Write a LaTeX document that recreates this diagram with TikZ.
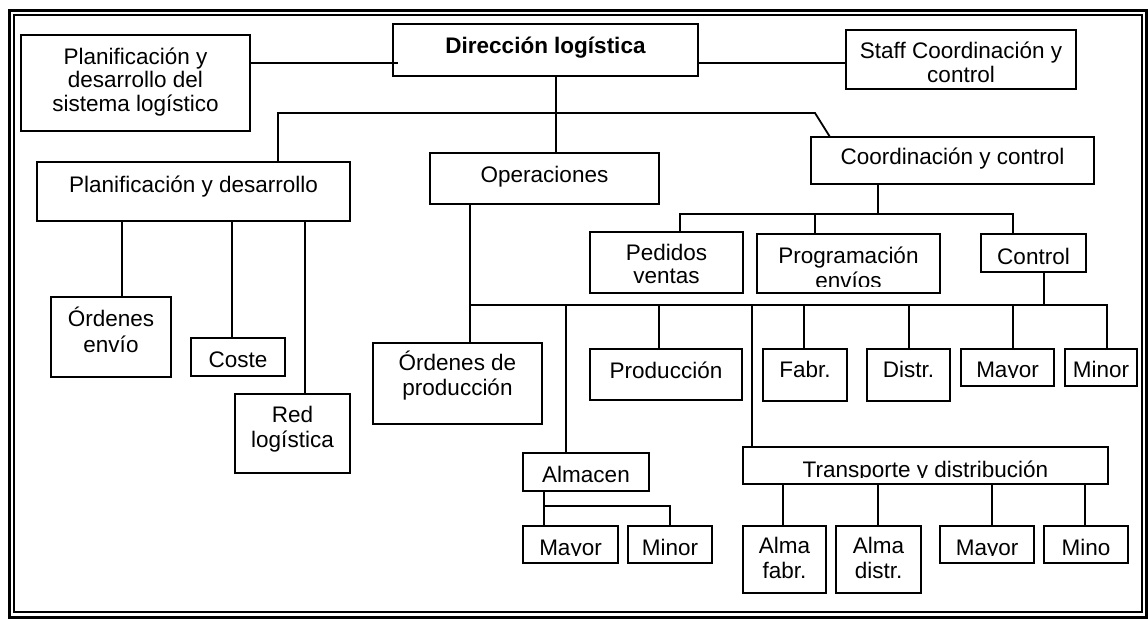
\documentclass[tikz,border=0pt]{standalone}
\usepackage{fontspec}
\setmainfont{Liberation Sans}
% A box from (x1,y1) to (x2,y2); its lines are set at given offsets below
% the top edge, and the text is clipped #6 units above the bottom edge.
\newcommand\orgbox[7]{%
  \node[box, minimum width={(#4-#2)*1pt}, minimum height={(#5-#3)*1pt},
    path picture={
      \clip (path picture bounding box.north west) rectangle
            ([yshift=#6pt]path picture bounding box.south east);
      \foreach \boff/\btxt in {#7}{%
        \node[lbl] at ([yshift={-\boff pt}]path picture bounding box.north) {\btxt};}
    }] (#1) at ({(#2+#4)/2},{(#3+#5)/2}) {};}
\begin{document}
\begin{tikzpicture}[x=1pt,y=-1pt,
  box/.style={draw, rectangle, line width=1.8pt, inner sep=0pt, outer sep=0pt},
  lbl/.style={draw=none, inner sep=0pt, anchor=base, font=\fontsize{22.5}{24}\selectfont},
  link/.style={line width=1.8pt},
  frameout/.style={line width=3pt},
  framein/.style={line width=1.4pt}]
\useasboundingbox (0,0) rectangle (1148,619);
% double frame
\draw[frameout] (9,10) rectangle (1146,617);
\draw[framein] (14,15) rectangle (1142,612);

% top level
\orgbox{plansys}{21}{35}{250}{131}{0}{29/Planificación y, 52/desarrollo del, 76/sistema logístico}
\orgbox{dir}{393}{24}{698}{76}{0}{29/\bfseries Dirección logística}
\orgbox{staff}{846}{30}{1076}{89}{0}{28/Staff Coordinación y, 52/control}

% second level
\orgbox{pyd}{37}{162}{350}{221}{0}{30/Planificación y desarrollo}
\orgbox{ops}{430}{153}{659}{204}{0}{29/Operaciones}
\orgbox{coord}{811}{137}{1094}{184}{0}{27/Coordinación y control}

% coordination branch
\orgbox{ped}{590}{232}{743}{293}{0}{28/Pedidos, 51/ventas}
\orgbox{prog}{757}{234}{940}{293}{7}{29/Programación, 54/envíos}
\orgbox{ctrl}{981}{234}{1086}{272}{0}{30/Control}

% planning branch
\orgbox{envio}{51}{297}{171}{377}{0}{29/Órdenes, 55/envío}
\orgbox{coste}{191}{338}{285}{376}{0}{29/Coste}
\orgbox{red}{235}{394}{350}{473}{0}{28/Red, 53/logística}

% operations branch
\orgbox{ordprod}{373}{343}{542}{424}{0}{27/Órdenes de, 52/producción}
\orgbox{prod}{590}{349}{742}{400}{0}{29/Producción}
\orgbox{fabr}{763}{349}{847}{401}{0}{28/Fabr.}
\orgbox{distr}{867}{349}{950}{401}{0}{28/Distr.}
\orgbox{mayc}{961}{349}{1054}{386}{9}{28/Mayor}
\orgbox{minc}{1065}{349}{1137}{386}{9}{28/Minor}
\orgbox{alm}{523}{453}{649}{491}{0}{29/Almacen}
\orgbox{maya}{523}{526}{618}{563}{8}{29/Mayor}
\orgbox{mina}{628}{526}{712}{563}{8}{29/Minor}
\orgbox{trans}{743}{447}{1108}{484}{7}{30/Transporte y distribución}
\orgbox{almf}{743}{526}{826}{593}{0}{27/Alma, 52/fabr.}
\orgbox{almd}{836}{526}{921}{593}{0}{27/Alma, 52/distr.}
\orgbox{mayt}{940}{526}{1034}{563}{8}{29/Mayor}
\orgbox{mino}{1044}{526}{1128}{563}{8}{29/Mino}

% connectors: top level
\coordinate (hl) at (0,63);
\draw[link] (plansys.east |- hl) -- ([xshift=5pt]dir.west |- hl);
\draw[link] (dir.east |- hl) -- (staff.west |- hl);
\draw[link] (dir.south -| 556,0) -- (ops.north -| 556,0);
\draw[link] (pyd.north -| 278,0) -- (278,113) -- (815,113) -- ([xshift=19pt]coord.north west);

% connectors: planning branch
\foreach \xx/\nn in {122/envio, 232/coste, 305/red}
  \draw[link] (pyd.south -| \xx,0) -- (\nn.north -| \xx,0);

% connectors: coordination branch
\coordinate (cbus) at (0,214);
\draw[link] (coord.south -| 878,0) -- (cbus -| 878,0);
\draw[link] (ped.north -| 680,0) -- (cbus -| 680,0) -- (cbus -| 1013,0) -- (ctrl.north -| 1013,0);
\draw[link] (cbus -| 815,0) -- (prog.north -| 815,0);

% connectors: operations branch
\coordinate (obus) at (470,305);
\draw[link] (ops.south -| obus) -- (ordprod.north -| obus);
\draw[link] (obus) -| (minc.north -| 1107,0);
\draw[link] (ctrl.south -| 1044,0) -- (obus -| 1044,0);
\foreach \xx/\nn in {566/alm, 659/prod, 752/trans, 804/fabr, 909/distr, 1013/mayc}
  \draw[link] (obus -| \xx,0) -- (\nn.north -| \xx,0);

% connectors: warehouse
\coordinate (abus) at (544,506);
\draw[link] (alm.south -| abus) -- (maya.north -| abus);
\draw[link] (abus) -| (mina.north -| 670,0);

% connectors: transport
\foreach \xx/\nn in {783/almf, 878/almd, 992/mayt, 1085/mino}
  \draw[link] (trans.south -| \xx,0) -- (\nn.north -| \xx,0);
\end{tikzpicture}
\end{document}
